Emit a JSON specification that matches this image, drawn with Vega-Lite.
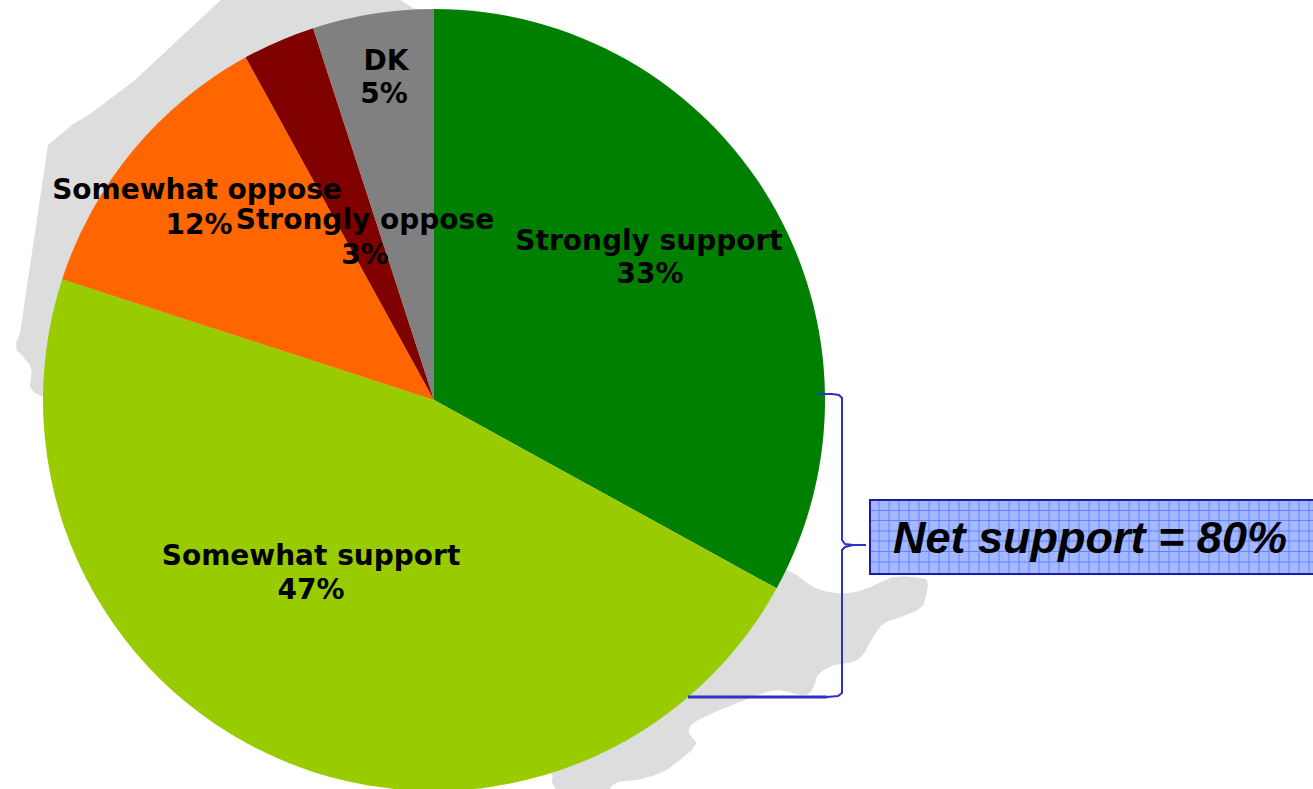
{
  "$schema": "https://vega.github.io/schema/vega-lite/v6.json",
  "width": 1313,
  "height": 789,
  "padding": 0,
  "autosize": {"type": "none"},
  "background": "#ffffff",
  "view": {"stroke": null},
  "datasets": {
    "slices": [
      {"answer": "Strongly support", "share": 33, "rank": 1},
      {"answer": "Somewhat support", "share": 47, "rank": 2},
      {"answer": "Somewhat oppose", "share": 12, "rank": 3},
      {"answer": "Strongly oppose", "share": 3, "rank": 4},
      {"answer": "DK", "share": 5, "rank": 5}
    ],
    "labels": [
      {"text": "Strongly support", "px": 649, "py": 242},
      {"text": "33%", "px": 650, "py": 275},
      {"text": "Somewhat support", "px": 311, "py": 557},
      {"text": "47%", "px": 311, "py": 591},
      {"text": "Somewhat oppose", "px": 197, "py": 191},
      {"text": "12%", "px": 199, "py": 226},
      {"text": "Strongly oppose", "px": 365, "py": 221},
      {"text": "3%", "px": 365, "py": 256},
      {"text": "DK", "px": 386, "py": 62},
      {"text": "5%", "px": 384, "py": 95}
    ],
    "bracket": [
      {"step": 1, "px": 818, "py": 394},
      {"step": 2, "px": 832, "py": 394},
      {"step": 3, "px": 839, "py": 395},
      {"step": 4, "px": 842, "py": 398},
      {"step": 5, "px": 842, "py": 540},
      {"step": 6, "px": 845, "py": 544},
      {"step": 7, "px": 853, "py": 545},
      {"step": 8, "px": 866, "py": 545},
      {"step": 9, "px": 853, "py": 545},
      {"step": 10, "px": 845, "py": 547},
      {"step": 11, "px": 842, "py": 550},
      {"step": 12, "px": 842, "py": 693},
      {"step": 13, "px": 838, "py": 696},
      {"step": 14, "px": 827, "py": 697},
      {"step": 15, "px": 688, "py": 697}
    ],
    "bracketFoot": [{"from": 688, "to": 827, "py": 697}],
    "box": [{"left": 870, "right": 1320, "top": 500, "bottom": 574}],
    "mesh": [
      {"x1": 879, "x2": 879, "y1": 501, "y2": 573}, {"x1": 889, "x2": 889, "y1": 501, "y2": 573},
      {"x1": 899, "x2": 899, "y1": 501, "y2": 573}, {"x1": 909, "x2": 909, "y1": 501, "y2": 573},
      {"x1": 919, "x2": 919, "y1": 501, "y2": 573}, {"x1": 929, "x2": 929, "y1": 501, "y2": 573},
      {"x1": 939, "x2": 939, "y1": 501, "y2": 573}, {"x1": 949, "x2": 949, "y1": 501, "y2": 573},
      {"x1": 959, "x2": 959, "y1": 501, "y2": 573}, {"x1": 969, "x2": 969, "y1": 501, "y2": 573},
      {"x1": 979, "x2": 979, "y1": 501, "y2": 573}, {"x1": 989, "x2": 989, "y1": 501, "y2": 573},
      {"x1": 999, "x2": 999, "y1": 501, "y2": 573}, {"x1": 1009, "x2": 1009, "y1": 501, "y2": 573},
      {"x1": 1019, "x2": 1019, "y1": 501, "y2": 573}, {"x1": 1029, "x2": 1029, "y1": 501, "y2": 573},
      {"x1": 1039, "x2": 1039, "y1": 501, "y2": 573}, {"x1": 1049, "x2": 1049, "y1": 501, "y2": 573},
      {"x1": 1059, "x2": 1059, "y1": 501, "y2": 573}, {"x1": 1069, "x2": 1069, "y1": 501, "y2": 573},
      {"x1": 1079, "x2": 1079, "y1": 501, "y2": 573}, {"x1": 1089, "x2": 1089, "y1": 501, "y2": 573},
      {"x1": 1099, "x2": 1099, "y1": 501, "y2": 573}, {"x1": 1109, "x2": 1109, "y1": 501, "y2": 573},
      {"x1": 1119, "x2": 1119, "y1": 501, "y2": 573}, {"x1": 1129, "x2": 1129, "y1": 501, "y2": 573},
      {"x1": 1139, "x2": 1139, "y1": 501, "y2": 573}, {"x1": 1149, "x2": 1149, "y1": 501, "y2": 573},
      {"x1": 1159, "x2": 1159, "y1": 501, "y2": 573}, {"x1": 1169, "x2": 1169, "y1": 501, "y2": 573},
      {"x1": 1179, "x2": 1179, "y1": 501, "y2": 573}, {"x1": 1189, "x2": 1189, "y1": 501, "y2": 573},
      {"x1": 1199, "x2": 1199, "y1": 501, "y2": 573}, {"x1": 1209, "x2": 1209, "y1": 501, "y2": 573},
      {"x1": 1219, "x2": 1219, "y1": 501, "y2": 573}, {"x1": 1229, "x2": 1229, "y1": 501, "y2": 573},
      {"x1": 1239, "x2": 1239, "y1": 501, "y2": 573}, {"x1": 1249, "x2": 1249, "y1": 501, "y2": 573},
      {"x1": 1259, "x2": 1259, "y1": 501, "y2": 573}, {"x1": 1269, "x2": 1269, "y1": 501, "y2": 573},
      {"x1": 1279, "x2": 1279, "y1": 501, "y2": 573}, {"x1": 1289, "x2": 1289, "y1": 501, "y2": 573},
      {"x1": 1299, "x2": 1299, "y1": 501, "y2": 573}, {"x1": 1309, "x2": 1309, "y1": 501, "y2": 573},
      {"x1": 871, "x2": 1313, "y1": 510.5, "y2": 510.5}, {"x1": 871, "x2": 1313, "y1": 520.5, "y2": 520.5},
      {"x1": 871, "x2": 1313, "y1": 531, "y2": 531}, {"x1": 871, "x2": 1313, "y1": 541, "y2": 541},
      {"x1": 871, "x2": 1313, "y1": 551.5, "y2": 551.5}, {"x1": 871, "x2": 1313, "y1": 562, "y2": 562}
    ],
    "callout": [{"text": "Net support = 80%", "px": 1090, "py": 539}]
  },
  "layer": [
    {
      "data": {
        "values": [{
          "type": "Feature",
          "properties": {"name": "land"},
          "geometry": {
            "type": "MultiPolygon",
            "coordinates": [
              [[[223, -2], [135, 80], [113, 96.7], [90, 114], [71.7, 125], [60, 135], [48, 145], [20, 333], [16, 343], [16.7, 350], [23.3, 357], [30, 365], [31.7, 371.7], [30, 386.7], [35, 393], [43.3, 397.3], [200, 400], [434, 400], [420, 10], [413, 8], [397, -2], [223, -2]]],
              [[[700, 560], [786.7, 570], [796.7, 575], [806.7, 582.7], [815, 587.7], [826.7, 591.7], [841.7, 593.7], [856.7, 591.7], [870, 587.3], [883.3, 581], [891.7, 577.3], [903.3, 576.3], [920, 577.7], [926.7, 579.3], [928, 585], [926, 596.7], [923.3, 605], [916.7, 610.7], [901.7, 616.7], [886.7, 621.7], [880, 626.7], [873.3, 636.7], [865, 651.7], [860, 658.3], [851.7, 662.3], [833.3, 665.3], [823.3, 670], [816.7, 676.7], [815, 683.3], [811.7, 690.7], [806.7, 694.7], [800, 695], [788.3, 691.7], [778.3, 690], [766.7, 691.7], [746.7, 699.3], [713.3, 712.7], [696.7, 720.7], [690, 726], [688.3, 731.7], [691.7, 737.3], [696.7, 742.7], [691.7, 750], [680, 760], [666.7, 770], [653.3, 775.7], [636.7, 780], [618.3, 781.7], [611.7, 786], [608, 792], [556.7, 792], [551.7, 781.7], [553, 776], [500, 700], [700, 560]]]
            ]
          }
        }]
      },
      "mark": {"type": "geoshape", "fill": "#dddddd", "stroke": null},
      "projection": {"type": "identity", "scale": 1, "translate": [0, 0]}
    },
    {
      "data": {"name": "slices"},
      "mark": {"type": "arc", "outerRadius": 391, "stroke": null},
      "encoding": {
        "x": {"datum": 434, "type": "quantitative", "scale": {"domain": [0, 1313], "nice": false, "zero": false}, "axis": null},
        "y": {"datum": 400, "type": "quantitative", "scale": {"domain": [789, 0], "nice": false, "zero": false}, "axis": null},
        "theta": {"field": "share", "type": "quantitative", "stack": true, "scale": {"domain": [0, 100]}},
        "order": {"field": "rank", "type": "ordinal"},
        "color": {
          "field": "answer",
          "type": "nominal",
          "legend": null,
          "scale": {
            "domain": ["Strongly support", "Somewhat support", "Somewhat oppose", "Strongly oppose", "DK"],
            "range": ["#008000", "#99cc00", "#ff6600", "#800000", "#808080"]
          }
        }
      }
    },
    {
      "data": {"name": "bracket"},
      "mark": {"type": "line", "stroke": "#3030c4", "strokeWidth": 2},
      "encoding": {
        "x": {"field": "px", "type": "quantitative"},
        "y": {"field": "py", "type": "quantitative"},
        "order": {"field": "step", "type": "quantitative"}
      }
    },
    {
      "data": {"name": "bracketFoot"},
      "mark": {"type": "rule", "stroke": "#3030c4", "strokeWidth": 3},
      "encoding": {
        "x": {"field": "from", "type": "quantitative"},
        "x2": {"field": "to"},
        "y": {"field": "py", "type": "quantitative"}
      }
    },
    {
      "data": {"name": "box"},
      "mark": {"type": "rect", "fill": "#a3b8ff", "stroke": "#1a1aa6", "strokeWidth": 2},
      "encoding": {
        "x": {"field": "left", "type": "quantitative"},
        "x2": {"field": "right"},
        "y": {"field": "top", "type": "quantitative"},
        "y2": {"field": "bottom"}
      }
    },
    {
      "data": {"name": "mesh"},
      "mark": {"type": "rule", "stroke": "#6682ff", "strokeWidth": 1},
      "encoding": {
        "x": {"field": "x1", "type": "quantitative"},
        "x2": {"field": "x2"},
        "y": {"field": "y1", "type": "quantitative"},
        "y2": {"field": "y2"}
      }
    },
    {
      "data": {"name": "labels"},
      "mark": {"type": "text", "font": "DejaVu Sans", "fontWeight": "bold", "fontSize": 28, "align": "center", "baseline": "middle", "fill": "#000000"},
      "encoding": {
        "x": {"field": "px", "type": "quantitative"},
        "y": {"field": "py", "type": "quantitative"},
        "text": {"field": "text", "type": "nominal"}
      }
    },
    {
      "data": {"name": "callout"},
      "mark": {"type": "text", "font": "Liberation Sans", "fontWeight": "bold", "fontStyle": "italic", "fontSize": 45, "align": "center", "baseline": "middle", "fill": "#000000"},
      "encoding": {
        "x": {"field": "px", "type": "quantitative"},
        "y": {"field": "py", "type": "quantitative"},
        "text": {"field": "text", "type": "nominal"}
      }
    }
  ]
}
